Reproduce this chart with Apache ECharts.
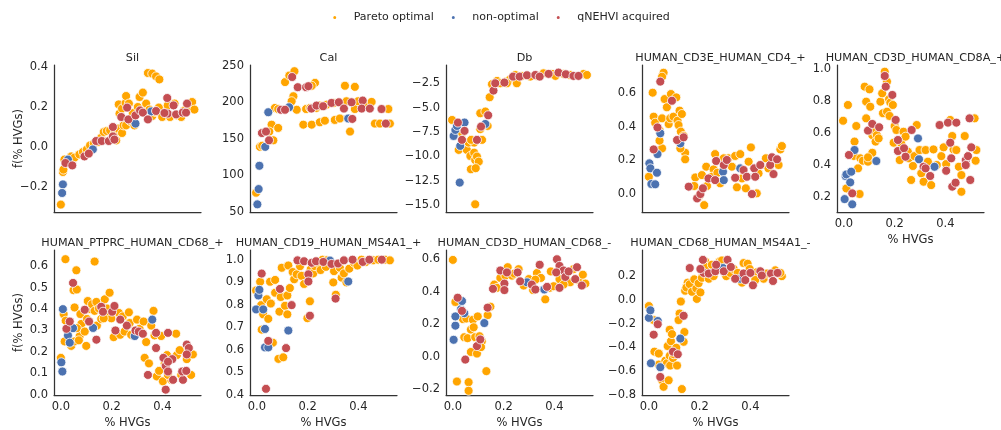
<!DOCTYPE html>
<html>
<head>
<meta charset="utf-8">
<script src="https://cdn.jsdelivr.net/npm/echarts@6/dist/echarts.min.js"></script>
<style>
  html, body { margin: 0; padding: 0; background: #fff; }
  #chart { width: 1001px; height: 430px; }
</style>
</head>
<body>
<div id="chart"></div>
<script>
// panel titles, in reading order
const panelTitles = [
  'Sil', 'Cal', 'Db', 'HUMAN_CD3E_HUMAN_CD4_+', 'HUMAN_CD3D_HUMAN_CD8A_+',
  'HUMAN_PTPRC_HUMAN_CD68_+', 'HUMAN_CD19_HUMAN_MS4A1_+', 'HUMAN_CD3D_HUMAN_CD68_-', 'HUMAN_CD68_HUMAN_MS4A1_-'
]
const seriesNames = ['Pareto optimal', 'non-optimal', 'qNEHVI acquired']

const xTicks = [0, 0.2, 0.4]
const yTicks = [
  [-0.2, 0, 0.2, 0.4],
  [50, 100, 150, 200, 250],
  [-15, -12.5, -10, -7.5, -5, -2.5],
  [0, 0.2, 0.4, 0.6],
  [0.2, 0.4, 0.6, 0.8, 1.0],
  [0, 0.1, 0.2, 0.3, 0.4, 0.5, 0.6],
  [0.4, 0.5, 0.6, 0.7, 0.8, 0.9, 1.0],
  [-0.2, 0, 0.2, 0.4, 0.6],
  [-0.8, -0.6, -0.4, -0.2, 0, 0.2]
]
const yDecimals = [1, 0, 1, 1, 1, 1, 1, 1, 1]

// Sil
const silPareto = [[0.0,-0.288],[0.008,-0.125],[0.01,-0.113],[0.014,-0.063],[0.034,-0.067],[0.041,-0.047],[0.054,-0.053],[0.073,-0.037],[0.087,-0.025],[0.102,-0.013],[0.115,0.008],[0.13,0.017],[0.146,0.025],[0.159,0.047],[0.169,0.075],[0.181,0.08],[0.194,0.083],[0.211,0.067],[0.218,0.033],[0.226,0.092],[0.241,0.07],[0.247,0.108],[0.257,0.108],[0.273,0.13],[0.281,0.15],[0.29,0.108],[0.231,0.167],[0.228,0.213],[0.241,0.192],[0.255,0.22],[0.257,0.255],[0.268,0.217],[0.283,0.17],[0.303,0.2],[0.31,0.25],[0.323,0.272],[0.336,0.217],[0.349,0.187],[0.36,0.155],[0.373,0.175],[0.386,0.197],[0.399,0.15],[0.412,0.17],[0.421,0.208],[0.43,0.15],[0.448,0.217],[0.457,0.158],[0.474,0.15],[0.487,0.183],[0.507,0.203],[0.517,0.225],[0.526,0.187],[0.343,0.37],[0.36,0.367],[0.375,0.353],[0.388,0.338]]
const silNonOpt = [[0.008,-0.187],[0.005,-0.23],[0.028,-0.063],[0.126,-0.012],[0.294,0.117],[0.356,0.178]]
const silAcquired = [[0.018,-0.08],[0.045,-0.092],[0.093,-0.047],[0.11,-0.033],[0.139,0.03],[0.161,0.03],[0.189,0.03],[0.205,0.053],[0.205,0.1],[0.211,0.037],[0.238,0.15],[0.261,0.197],[0.266,0.138],[0.294,0.158],[0.312,0.183],[0.323,0.172],[0.343,0.138],[0.375,0.18],[0.419,0.245],[0.444,0.208],[0.421,0.167],[0.408,0.17],[0.454,0.163],[0.48,0.172],[0.493,0.172],[0.497,0.217]]

// Cal
const calPareto = [[-0.003,76],[0.012,139],[0.021,140.6],[0.065,148],[0.058,169.5],[0.084,165],[0.049,160],[0.071,192.5],[0.084,191],[0.111,228],[0.128,237],[0.148,243],[0.144,208.6],[0.137,201.7],[0.157,190],[0.183,169.5],[0.194,191],[0.21,192.5],[0.216,169.5],[0.229,227],[0.216,223],[0.248,172.8],[0.268,175],[0.235,192.5],[0.275,197],[0.307,176],[0.327,178],[0.347,223],[0.386,221.5],[0.353,201.7],[0.367,160],[0.386,191],[0.399,201.7],[0.432,194.8],[0.452,200.8],[0.465,171],[0.485,171],[0.518,191],[0.524,171],[0.303,199.4],[0.246,195.7]]
const calNonOpt = [[0.002,60],[0.007,81],[0.01,113],[0.033,139],[0.045,186.6],[0.127,193.4],[0.36,178]]
const calAcquired = [[0.02,158],[0.036,160],[0.048,148],[0.095,190],[0.111,190],[0.139,235],[0.161,221],[0.194,221],[0.203,222.4],[0.215,191.6],[0.235,195.7],[0.261,194.8],[0.294,199.4],[0.323,200.3],[0.343,191.6],[0.373,200.3],[0.376,177.4],[0.417,202.6],[0.413,191.6],[0.445,191.6],[0.491,191],[0.508,171]]

// Db
const dbPareto = [[-0.003,-6.26],[0.023,-9.33],[0.036,-7.62],[0.055,-9.33],[0.069,-9.95],[0.062,-8.58],[0.071,-11.31],[0.084,-9.61],[0.084,-8.58],[0.088,-10.36],[0.095,-10.01],[0.102,-10.53],[0.09,-11.2],[0.088,-14.9],[0.115,-8.3],[0.108,-5.57],[0.128,-5.4],[0.137,-6.87],[0.145,-3.93],[0.154,-2.6],[0.174,-2.26],[0.187,-2.5],[0.21,-2.33],[0.226,-2.09],[0.246,-1.65],[0.252,-2.5],[0.272,-1.75],[0.305,-1.82],[0.331,-1.75],[0.357,-1.48],[0.39,-1.54],[0.404,-1.75],[0.436,-1.54],[0.462,-1.65],[0.515,-1.54],[0.528,-1.65],[0.213,-2.5],[0.108,-7.2],[0.072,-8.3]]
const dbNonOpt = [[0.003,-7.9],[0.01,-7.28],[0.016,-6.87],[0.046,-6.53],[0.029,-8.92],[0.027,-12.68],[0.128,-6.67]]
const dbAcquired = [[0.02,-6.53],[0.046,-7.38],[0.036,-8.3],[0.095,-8.3],[0.111,-6.94],[0.139,-5.78],[0.16,-3.25],[0.167,-2.5],[0.203,-2.43],[0.237,-1.82],[0.263,-1.82],[0.292,-1.68],[0.325,-1.65],[0.342,-1.82],[0.377,-1.54],[0.416,-1.41],[0.445,-1.58],[0.475,-1.75],[0.495,-1.75]]

// HUMAN_CD3E_HUMAN_CD4_+
const cd4Pareto = [[0.0,0.103],[0.015,0.604],[0.019,0.461],[0.025,0.425],[0.042,0.381],[0.052,0.272],[0.042,0.318],[0.052,0.451],[0.058,0.723],[0.052,0.699],[0.062,0.566],[0.071,0.517],[0.078,0.417],[0.084,0.451],[0.087,0.596],[0.097,0.461],[0.108,0.576],[0.113,0.437],[0.121,0.497],[0.13,0.477],[0.117,0.411],[0.126,0.372],[0.137,0.346],[0.143,0.246],[0.143,0.207],[0.124,0.272],[0.183,0.099],[0.179,0.048],[0.196,-0.016],[0.218,-0.066],[0.229,0.048],[0.226,0.163],[0.261,0.238],[0.255,0.147],[0.248,0.103],[0.281,0.064],[0.27,0.127],[0.314,0.213],[0.327,0.163],[0.34,0.227],[0.347,0.04],[0.36,0.238],[0.367,0.093],[0.382,0.034],[0.393,0.193],[0.402,0.278],[0.425,0.004],[0.432,0.123],[0.461,0.213],[0.471,0.153],[0.511,0.173],[0.518,0.266],[0.524,0.286],[0.209,0.113],[0.295,0.213]]
const cd4NonOpt = [[0.002,0.183],[0.006,0.153],[0.01,0.06],[0.025,0.058],[0.032,0.127],[0.034,0.238],[0.045,0.362],[0.124,0.302],[0.292,0.133],[0.295,0.083],[0.36,0.153]]
const cd4Acquired = [[0.019,0.266],[0.034,0.397],[0.045,0.67],[0.091,0.556],[0.111,0.322],[0.137,0.338],[0.157,0.044],[0.19,-0.026],[0.203,0.0],[0.213,0.034],[0.235,0.093],[0.261,0.083],[0.265,0.197],[0.295,0.173],[0.307,0.203],[0.34,0.097],[0.373,0.143],[0.386,0.103],[0.406,0.0],[0.415,0.153],[0.439,0.173],[0.478,0.173],[0.485,0.219],[0.491,0.119],[0.505,0.207],[0.419,0.103]]

// HUMAN_CD3D_HUMAN_CD8A_+
const cd8Pareto = [[-0.003,0.677],[0.016,0.776],[0.01,0.252],[0.042,0.546],[0.039,0.456],[0.049,0.644],[0.056,0.378],[0.062,0.217],[0.065,0.441],[0.075,0.426],[0.082,0.891],[0.088,0.797],[0.088,0.692],[0.095,0.42],[0.101,0.874],[0.104,0.765],[0.112,0.476],[0.112,0.587],[0.121,0.608],[0.125,0.546],[0.13,0.587],[0.137,0.566],[0.144,0.797],[0.151,0.849],[0.154,0.724],[0.161,0.985],[0.17,0.923],[0.178,0.812],[0.183,0.791],[0.17,0.734],[0.193,0.776],[0.18,0.707],[0.2,0.644],[0.207,0.619],[0.196,0.539],[0.22,0.43],[0.226,0.535],[0.235,0.608],[0.243,0.577],[0.252,0.483],[0.256,0.441],[0.265,0.305],[0.272,0.393],[0.278,0.455],[0.287,0.65],[0.298,0.493],[0.305,0.347],[0.314,0.294],[0.322,0.493],[0.331,0.42],[0.344,0.273],[0.353,0.497],[0.366,0.399],[0.384,0.455],[0.393,0.51],[0.403,0.405],[0.419,0.682],[0.427,0.581],[0.432,0.497],[0.443,0.493],[0.453,0.388],[0.463,0.336],[0.463,0.231],[0.476,0.581],[0.482,0.399],[0.515,0.692],[0.522,0.493],[0.519,0.426],[0.095,0.447]]
const cd8NonOpt = [[0.003,0.185],[0.007,0.33],[0.01,0.34],[0.029,0.357],[0.025,0.29],[0.033,0.152],[0.042,0.493],[0.128,0.424],[0.292,0.566],[0.296,0.435],[0.357,0.388]]
const cd8Acquired = [[0.02,0.462],[0.033,0.221],[0.095,0.615],[0.112,0.657],[0.139,0.636],[0.161,0.958],[0.165,0.891],[0.191,0.839],[0.204,0.682],[0.213,0.556],[0.213,0.487],[0.237,0.504],[0.243,0.451],[0.267,0.619],[0.314,0.388],[0.322,0.378],[0.34,0.33],[0.377,0.65],[0.403,0.363],[0.41,0.665],[0.423,0.441],[0.419,0.539],[0.427,0.263],[0.443,0.665],[0.44,0.288],[0.48,0.43],[0.489,0.455],[0.502,0.51],[0.498,0.305],[0.495,0.692],[0.48,0.399]]

// HUMAN_PTPRC_HUMAN_CD68_+
const ptprcPareto = [[0.0,0.172],[0.018,0.634],[0.011,0.377],[0.019,0.346],[0.015,0.249],[0.041,0.228],[0.05,0.489],[0.061,0.582],[0.063,0.492],[0.054,0.408],[0.054,0.249],[0.074,0.274],[0.081,0.331],[0.077,0.377],[0.063,0.311],[0.071,0.254],[0.094,0.295],[0.1,0.228],[0.103,0.354],[0.106,0.438],[0.115,0.4],[0.123,0.423],[0.133,0.623],[0.133,0.392],[0.14,0.434],[0.142,0.323],[0.15,0.403],[0.159,0.354],[0.173,0.446],[0.182,0.403],[0.192,0.477],[0.189,0.372],[0.199,0.357],[0.208,0.269],[0.218,0.388],[0.229,0.382],[0.234,0.28],[0.244,0.366],[0.251,0.295],[0.268,0.385],[0.271,0.335],[0.277,0.28],[0.3,0.351],[0.31,0.308],[0.326,0.342],[0.33,0.172],[0.336,0.246],[0.347,0.146],[0.356,0.323],[0.365,0.392],[0.369,0.277],[0.378,0.085],[0.395,0.274],[0.387,0.111],[0.402,0.062],[0.418,0.185],[0.435,0.069],[0.454,0.285],[0.457,0.185],[0.468,0.208],[0.474,0.092],[0.496,0.166],[0.513,0.092],[0.52,0.188],[0.409,0.146],[0.422,0.092],[0.169,0.357]]
const ptprcNonOpt = [[0.008,0.4],[0.002,0.151],[0.006,0.108],[0.028,0.277],[0.035,0.243],[0.048,0.311],[0.127,0.312],[0.291,0.274],[0.36,0.351]]
const ptprcAcquired = [[0.022,0.308],[0.035,0.342],[0.048,0.523],[0.094,0.397],[0.111,0.342],[0.14,0.257],[0.159,0.411],[0.166,0.388],[0.202,0.388],[0.211,0.415],[0.215,0.3],[0.234,0.351],[0.26,0.323],[0.294,0.3],[0.307,0.295],[0.323,0.285],[0.343,0.092],[0.375,0.218],[0.375,0.289],[0.404,0.172],[0.422,0.289],[0.413,0.134],[0.422,0.108],[0.442,0.069],[0.439,0.166],[0.481,0.069],[0.478,0.108],[0.494,0.111],[0.496,0.234],[0.504,0.218],[0.496,0.188],[0.413,0.023],[0.422,0.154]]

// HUMAN_CD19_HUMAN_MS4A1_+
const cd19Pareto = [[-0.003,0.863],[0.013,0.902],[0.017,0.798],[0.019,0.689],[0.025,0.757],[0.039,0.824],[0.045,0.737],[0.052,0.902],[0.055,0.805],[0.063,0.631],[0.072,0.91],[0.072,0.853],[0.085,0.559],[0.089,0.769],[0.094,0.834],[0.098,0.964],[0.104,0.566],[0.111,0.795],[0.12,0.757],[0.12,0.841],[0.13,0.874],[0.124,0.974],[0.141,0.945],[0.147,0.913],[0.157,0.935],[0.17,0.971],[0.176,0.928],[0.186,0.892],[0.199,0.74],[0.209,0.815],[0.212,0.957],[0.222,0.939],[0.229,0.971],[0.242,0.986],[0.251,0.954],[0.259,1.0],[0.272,0.968],[0.275,0.997],[0.301,0.899],[0.304,0.949],[0.311,0.844],[0.327,0.964],[0.334,0.92],[0.343,0.939],[0.353,0.899],[0.364,0.96],[0.383,0.986],[0.396,0.974],[0.412,1.0],[0.43,0.99],[0.458,0.997],[0.478,1.0],[0.505,1.0],[0.524,0.997]]
const cd19NonOpt = [[-0.003,0.779],[0.006,0.841],[0.01,0.866],[0.025,0.779],[0.032,0.692],[0.032,0.61],[0.045,0.61],[0.124,0.685],[0.288,0.996],[0.36,0.903]]
const cd19Acquired = [[0.019,0.938],[0.045,0.639],[0.036,0.426],[0.091,0.87],[0.137,0.798],[0.16,0.997],[0.186,0.993],[0.203,0.935],[0.203,0.903],[0.209,0.751],[0.216,0.986],[0.233,0.993],[0.262,0.99],[0.294,0.981],[0.31,0.827],[0.32,0.983],[0.343,0.997],[0.377,1.0],[0.417,0.99],[0.443,1.0],[0.492,1.0],[0.115,0.607]]

// HUMAN_CD3D_HUMAN_CD68_-
const cd3dPareto = [[0.0,0.596],[0.01,0.337],[0.016,-0.153],[0.04,0.231],[0.045,0.12],[0.053,0.235],[0.062,-0.157],[0.062,-0.21],[0.058,0.114],[0.071,0.167],[0.071,0.029],[0.079,0.227],[0.082,0.181],[0.088,0.12],[0.095,0.019],[0.098,0.248],[0.105,0.126],[0.114,0.094],[0.111,0.059],[0.132,-0.089],[0.137,0.256],[0.148,0.308],[0.163,0.444],[0.174,0.424],[0.187,0.485],[0.207,0.499],[0.216,0.551],[0.233,0.499],[0.242,0.511],[0.259,0.539],[0.279,0.438],[0.299,0.478],[0.316,0.41],[0.331,0.515],[0.347,0.485],[0.364,0.353],[0.381,0.424],[0.386,0.525],[0.397,0.434],[0.42,0.478],[0.449,0.515],[0.462,0.458],[0.475,0.539],[0.495,0.47],[0.512,0.505],[0.522,0.45],[0.436,0.444],[0.325,0.474]]
const cd3dNonOpt = [[0.003,0.104],[0.01,0.191],[0.01,0.248],[0.032,0.292],[0.036,0.343],[0.045,0.268],[0.124,0.207],[0.292,0.458],[0.36,0.414]]
const cd3dAcquired = [[0.019,0.363],[0.036,0.282],[0.049,-0.018],[0.095,0.065],[0.108,0.106],[0.137,0.302],[0.187,0.531],[0.203,0.45],[0.213,0.519],[0.203,0.41],[0.158,0.418],[0.255,0.519],[0.265,0.464],[0.311,0.444],[0.325,0.414],[0.342,0.566],[0.371,0.43],[0.41,0.6],[0.42,0.559],[0.42,0.424],[0.436,0.531],[0.443,0.491],[0.482,0.478],[0.489,0.551],[0.508,0.438],[0.456,0.525],[0.407,0.519]]

// HUMAN_CD68_HUMAN_MS4A1_-
const cd68Pareto = [[0.0,-0.052],[0.019,-0.17],[0.022,-0.436],[0.039,-0.452],[0.052,-0.677],[0.039,-0.545],[0.058,-0.732],[0.065,-0.512],[0.071,-0.534],[0.074,-0.389],[0.082,-0.471],[0.084,-0.553],[0.087,-0.348],[0.078,-0.677],[0.095,-0.49],[0.098,-0.458],[0.108,-0.403],[0.111,-0.553],[0.082,-0.252],[0.091,-0.288],[0.121,-0.115],[0.126,-0.014],[0.13,-0.751],[0.137,-0.353],[0.14,-0.271],[0.117,-0.17],[0.143,0.077],[0.153,0.145],[0.148,0.104],[0.161,0.132],[0.17,0.068],[0.179,0.173],[0.187,0.096],[0.189,0.008],[0.196,0.14],[0.203,0.063],[0.209,0.186],[0.222,0.323],[0.226,0.277],[0.236,0.178],[0.248,0.296],[0.255,0.2],[0.279,0.323],[0.288,0.332],[0.305,0.2],[0.321,0.227],[0.334,0.26],[0.35,0.227],[0.367,0.145],[0.373,0.31],[0.389,0.304],[0.397,0.26],[0.415,0.2],[0.426,0.233],[0.452,0.178],[0.465,0.222],[0.498,0.249],[0.524,0.2],[0.518,0.227],[0.419,0.167]]
const cd68NonOpt = [[0.0,-0.151],[0.006,-0.088],[0.035,-0.178],[0.008,-0.534],[0.045,-0.567],[0.124,-0.326],[0.36,0.178],[0.292,0.268]]
const cd68Acquired = [[0.035,-0.205],[0.019,-0.293],[0.045,-0.649],[0.095,-0.436],[0.114,-0.458],[0.137,-0.134],[0.161,0.268],[0.213,0.337],[0.216,0.227],[0.203,0.26],[0.236,0.222],[0.262,0.241],[0.265,0.296],[0.295,0.241],[0.31,0.337],[0.323,0.277],[0.34,0.178],[0.373,0.222],[0.38,0.167],[0.4,0.227],[0.41,0.123],[0.439,0.241],[0.445,0.205],[0.481,0.222],[0.489,0.159],[0.507,0.227]]

const panelData = [
  [silPareto, silNonOpt, silAcquired],
  [calPareto, calNonOpt, calAcquired],
  [dbPareto, dbNonOpt, dbAcquired],
  [cd4Pareto, cd4NonOpt, cd4Acquired],
  [cd8Pareto, cd8NonOpt, cd8Acquired],
  [ptprcPareto, ptprcNonOpt, ptprcAcquired],
  [cd19Pareto, cd19NonOpt, cd19Acquired],
  [cd3dPareto, cd3dNonOpt, cd3dAcquired],
  [cd68Pareto, cd68NonOpt, cd68Acquired]
]

// axis limits (matplotlib autoscale with 5% margins)
const xLimits = [-0.027, 0.552]
const yLimits = [
  [-0.325, 0.41], [49.5, 251.5], [-15.69, -0.63], [-0.107, 0.769], [0.104, 1.027],
  [-0.002, 0.677], [0.3985, 1.043], [-0.236, 0.657], [-0.801, 0.42]
]

const colors = ['#FFA500', '#4C72B0', '#C44E52']
const font = 'DejaVu Sans'
const textColor = '#262626'
const fs = 11.5

const chart = echarts.init(document.getElementById('chart'), null, { renderer: 'canvas' })

const lefts = [54, 250, 446, 642, 837]
const tops = [65, 250]
const W = 147, H = 147

const fmt = (v, d) => v.toFixed(d).replace('-', '\u2212')

const grids = [], xAxes = [], yAxes = [], titles = [], series = []
panelTitles.forEach((name, i) => {
  const row = i < 5 ? 0 : 1
  const col = i < 5 ? i : i - 5
  const left = lefts[col], top = tops[row]
  grids.push({ left: left, top: top, width: W, height: H })
  titles.push({
    text: name,
    left: left + W / 2,
    top: top - 17,
    textAlign: 'center',
    textStyle: { fontFamily: font, fontSize: 11.2, fontWeight: 'normal', color: textColor }
  })
  const showX = row === 1 || i === 4
  xAxes.push({
    type: 'value', gridIndex: i, min: xLimits[0], max: xLimits[1],
    axisLine: { show: true, onZero: false, lineStyle: { color: '#333', width: 1.25 } },
    axisTick: { show: false },
    splitLine: { show: false },
    axisLabel: {
      show: showX, customValues: xTicks, margin: 6,
      fontFamily: font, fontSize: fs, color: textColor,
      formatter: v => fmt(v, 1)
    },
    name: showX ? '% HVGs' : '',
    nameLocation: 'middle', nameGap: 22, nameMoveOverlap: false,
    nameTextStyle: { fontFamily: font, fontSize: fs, color: textColor }
  })
  yAxes.push({
    type: 'value', gridIndex: i, min: yLimits[i][0], max: yLimits[i][1],
    axisLine: { show: true, onZero: false, lineStyle: { color: '#333', width: 1.25 } },
    axisTick: { show: false },
    splitLine: { show: false },
    axisLabel: {
      customValues: yTicks[i], margin: 6,
      fontFamily: font, fontSize: fs, color: textColor,
      formatter: v => fmt(v, yDecimals[i])
    },
    name: col === 0 ? 'f(% HVGs)' : '',
    nameLocation: 'middle', nameGap: 29, nameRotate: 90, nameMoveOverlap: false,
    nameTextStyle: { fontFamily: font, fontSize: fs, color: textColor }
  })
  panelData[i].forEach((pts, k) => {
    series.push({
      name: seriesNames[k],
      type: 'scatter',
      xAxisIndex: i, yAxisIndex: i,
      data: pts,
      symbolSize: 9,
      itemStyle: { color: colors[k], borderColor: '#fff', borderWidth: 0.8, opacity: 1 },
      emphasis: { disabled: true },
      animation: false
    })
  })
})

chart.setOption({
  animation: false,
  backgroundColor: '#fff',
  title: titles,
  legend: {
    data: seriesNames.map(n => ({ name: n, icon: 'circle' })),
    left: 'center', top: 7,
    itemWidth: 28, itemHeight: 5, itemGap: 16,
    textStyle: { fontFamily: font, fontSize: 11, color: textColor }
  },
  grid: grids,
  xAxis: xAxes,
  yAxis: yAxes,
  series: series
})

window.addEventListener('resize', () => chart.resize())
</script>
</body>
</html>
